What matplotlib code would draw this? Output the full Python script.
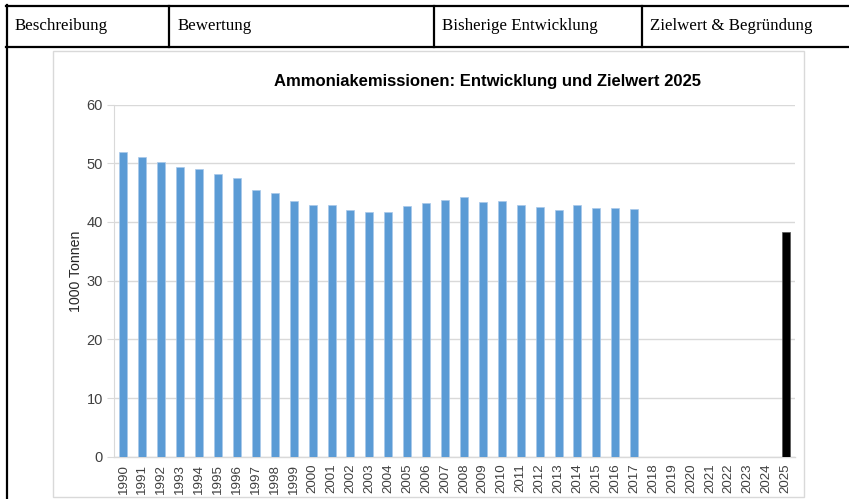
import numpy as np
import matplotlib
matplotlib.use("Agg")
import matplotlib.pyplot as plt
from matplotlib.lines import Line2D
from matplotlib.patches import Rectangle

# table header cells
headers = ["Beschreibung", "Bewertung", "Bisherige Entwicklung", "Zielwert & Begründung"]

# chart data (1000 Tonnen)
years = list(range(1990, 2026))
hist_years = list(range(1990, 2018))
emissions = [51.9, 51.0, 50.2, 49.4, 49.0, 48.1, 47.5, 45.5, 44.9, 43.5,
             42.9, 42.8, 42.1, 41.7, 41.75, 42.65, 43.15, 43.8, 44.2, 43.4,
             43.5, 42.9, 42.5, 42.1, 42.8, 42.4, 42.4, 42.2]
target_year = 2025
target_value = 38.2

W, H = 849, 499
fig = plt.figure(figsize=(W / 100, H / 100), dpi=100)
fig.patch.set_facecolor("white")


def fx(px):
    return px / W


def fy(py):
    return 1 - py / H


# table lines
line_kw = dict(color="black", linewidth=1.6, transform=fig.transFigure)
fig.add_artist(Line2D([fx(6), 1], [fy(5.5), fy(5.5)], **line_kw))
fig.add_artist(Line2D([fx(6), 1], [fy(46.5), fy(46.5)], **line_kw))
fig.add_artist(Line2D([fx(6.5), fx(6.5)], [fy(5), 0], **line_kw))
for xd in [168.5, 434, 641.7]:
    fig.add_artist(Line2D([fx(xd), fx(xd)], [fy(5.5), fy(46.5)], **line_kw))

header_x = [15, 178, 442, 650.5]
for txt, xh in zip(headers, header_x):
    fig.text(fx(xh), fy(26.5), txt, family="Liberation Serif", fontsize=12.2,
             ha="left", va="center", color="black")

# chart frame
fig.add_artist(Rectangle((fx(52.5), fy(496.5)), fx(804) - fx(52.5), fy(51) - fy(496.5),
                         transform=fig.transFigure, fill=False,
                         edgecolor="#d9d9d9", linewidth=1.0))

ax = fig.add_axes([fx(114), fy(456.7), fx(795) - fx(114), fy(104.5) - fy(456.7)])
pos = {y: i for i, y in enumerate(years)}
ax.bar([pos[y] for y in hist_years], emissions, width=0.42, color="#5b9bd5",
       edgecolor="#a9c8ea", linewidth=0.5, zorder=3)
ax.bar([pos[target_year]], [target_value], width=0.42, color="black",
       edgecolor="#555555", linewidth=0.5, zorder=3)

ax.set_xlim(-0.5, len(years) - 0.5)
ax.set_ylim(0, 60)
ax.set_yticks(range(0, 61, 10))
ax.set_xticks(range(len(years)))
ax.set_xticklabels([str(y) for y in years], rotation=90, fontsize=9.6,
                   family="Liberation Sans", color="#404040")
for lbl in ax.get_yticklabels():
    lbl.set_family("Liberation Sans")
    lbl.set_fontsize(10.5)
    lbl.set_color("#404040")
ax.tick_params(axis="x", length=0, pad=5)
ax.tick_params(axis="y", length=5, color="#d9d9d9", pad=3)
ax.grid(axis="y", color="#d9d9d9", linewidth=1.0, zorder=0)
for s in ["top", "right"]:
    ax.spines[s].set_visible(False)
ax.spines["left"].set_color("#d9d9d9")
ax.spines["bottom"].set_color("#d9d9d9")
ax.spines["bottom"].set_linewidth(1.0)

fig.text(fx(76.5), fy(271), "1000 Tonnen", rotation=90, family="Liberation Sans",
         fontsize=10.2, ha="center", va="center", color="#262626")
fig.text(fx(487.5), fy(81.5), "Ammoniakemissionen: Entwicklung und Zielwert 2025",
         family="Liberation Sans", fontsize=12, fontweight="bold",
         ha="center", va="center", color="black")

fig.savefig("out.png", dpi=100)
